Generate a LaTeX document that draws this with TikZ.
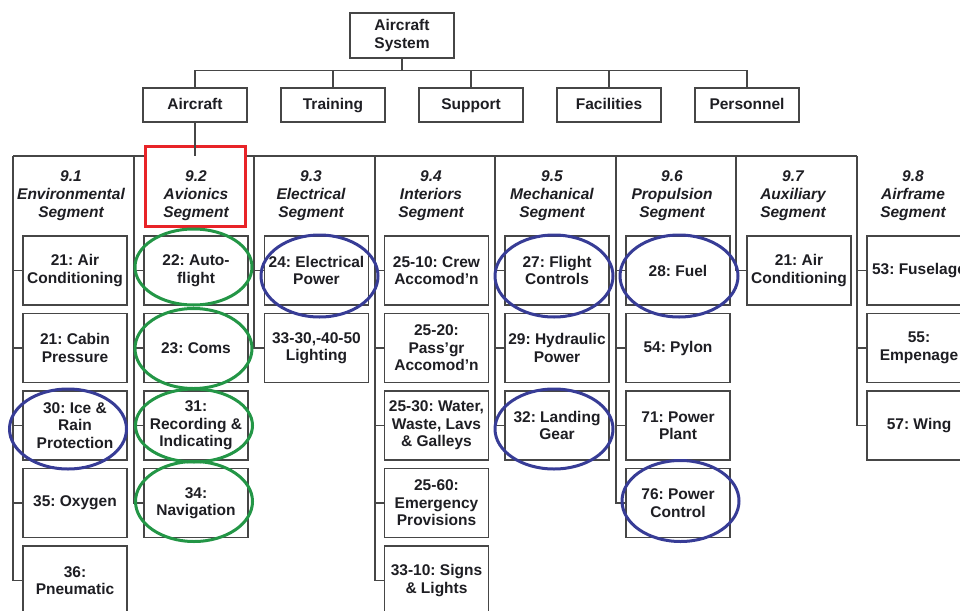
\documentclass[tikz,border=0pt]{standalone}
\usepackage{fontspec}
\setmainfont{Liberation Sans}
\frenchspacing
\usetikzlibrary{positioning}
\definecolor{linie}{RGB}{70,70,70}
\definecolor{schrift}{RGB}{30,30,35}
\definecolor{rot}{RGB}{232,35,40}
\definecolor{gruen}{RGB}{35,150,70}
\definecolor{blau}{RGB}{55,60,150}
\tikzset{kasten/.style={draw=linie,line width=1.3pt,fill=white,minimum width=104pt,minimum height=69pt,align=center,inner sep=1pt},
	oben/.style={kasten,minimum height=34pt,text height=13pt,text depth=3.5pt},
	kopf/.style={align=center,inner sep=0pt,font=\fontsize{15.5}{18}\selectfont\bfseries\itshape},
	ast/.style={draw=linie,line width=1.2pt},
	gruenring/.style={draw=gruen,line width=3pt},
	blauring/.style={draw=blau,line width=3pt},
	rotrahmen/.style={draw=rot,line width=3.2pt,fill=white,minimum width=100pt,minimum height=80pt} }

\begin{document}
\begin{tikzpicture}
	[x=1pt, y=-1pt,
	 font=\fontsize{15.5}{17.5}\selectfont\bfseries,
	 text=schrift,
	 node distance=7.2pt]
  \useasboundingbox (0,0) rectangle (960,610);
  \clip (0,0) rectangle (960,610);

  % obere Ebenen
  \node (sys) [kasten,minimum height=45pt] at (402,35.5) {Aircraft\\System};
  \node (a1) [oben] at (195,105) {Aircraft};
  \node (a2) [oben] at (333,105) {Training};
  \node (a3) [oben] at (471,105) {Support};
  \node (a4) [oben] at (609,105) {Facilities};
  \node (a5) [oben] at (747,105) {Personnel};
  \coordinate (bus) at (402,70.5);
  \foreach \n in {1,...,5}
    \draw[ast] (sys.south) -- (sys.south |- bus) -| (a\n.north);

  % Segmente
  \coordinate (s1) at (13,156);
  \coordinate (s2) at (134,156);
  \coordinate (s3) at (254,156);
  \coordinate (s4) at (375,156);
  \coordinate (s5) at (495,156);
  \coordinate (s6) at (616,156);
  \coordinate (s7) at (736,156);
  \coordinate (s8) at (857,156);
  \draw[ast] (s1) -- (s8);

  \node (rahmen) [rotrahmen] at (195.5,186.5) {};
  \draw[ast] (a1.south) -- (a1.south |- s1);

  \node (k1) [kopf] at (71,196) {9.1\\Environmental\\Segment};
  \node (k2) [kopf] at (196,196) {9.2\\Avionics\\Segment};
  \node (k3) [kopf] at (311,196) {9.3\\Electrical\\Segment};
  \node (k4) [kopf] at (431,196) {9.4\\Interiors\\Segment};
  \node (k5) [kopf] at (552,196) {9.5\\Mechanical\\Segment};
  \node (k6) [kopf] at (672,196) {9.6\\Propulsion\\Segment};
  \node (k7) [kopf] at (793,196) {9.7\\Auxiliary\\Segment};
  \node (k8) [kopf] at (913,196) {9.8\\Airframe\\Segment};

  % 9.1
  \node (e1) [kasten] at (75,270.5) {21: Air\\Conditioning};
  \node (e2) [kasten,below=of e1] {21: Cabin\\Pressure};
  \node (e3) [kasten,below=of e2] {30: Ice \&\\Rain\\Protection};
  \node (e4) [kasten,below=of e3] {35: Oxygen};
  \node (e5) [kasten,below=of e4] {36:\\Pneumatic};
  \foreach \n in {e1,e2,e3,e4,e5}
    \draw[ast] (s1) |- (\n.west);

  % 9.2
  \node (v1) [kasten] at (196,270.5) {22: Auto-\\flight};
  \node (v2) [kasten,below=of v1] {23: Coms};
  \node (v3) [kasten,below=of v2] {31:\\Recording \&\\Indicating};
  \node (v4) [kasten,below=of v3] {34:\\Navigation};
  \foreach \n in {v1,v2,v3,v4}
    \draw[ast] (s2) |- (\n.west);

  % 9.3
  \node (l1) [kasten] at (316.5,270.5) {24: Electrical\\Power};
  \node (l2) [kasten,below=of l1] {33-30,-40-50\\Lighting};
  \foreach \n in {l1,l2}
    \draw[ast] (s3) |- (\n.west);

  % 9.4
  \node (i1) [kasten] at (436.5,270.5) {25-10: Crew\\Accomod’n};
  \node (i2) [kasten,below=of i1] {25-20:\\Pass’gr\\Accomod’n};
  \node (i3) [kasten,below=of i2] {25-30: Water,\\Waste, Lavs\\\& Galleys};
  \node (i4) [kasten,below=of i3] {25-60:\\Emergency\\Provisions};
  \node (i5) [kasten,below=of i4] {33-10: Signs\\\& Lights};
  \foreach \n in {i1,i2,i3,i4,i5}
    \draw[ast] (s4) |- (\n.west);

  % 9.5
  \node (m1) [kasten] at (557,270.5) {27: Flight\\Controls};
  \node (m2) [kasten,below=of m1] {29: Hydraulic\\Power};
  \node (m3) [kasten,below=of m2] {32: Landing\\Gear};
  \foreach \n in {m1,m2,m3}
    \draw[ast] (s5) |- (\n.west);

  % 9.6
  \node (p1) [kasten] at (678,270.5) {28: Fuel};
  \node (p2) [kasten,below=of p1] {54: Pylon};
  \node (p3) [kasten,below=of p2] {71: Power\\Plant};
  \node (p4) [kasten,below=of p3] {76: Power\\Control};
  \foreach \n in {p1,p2,p3,p4}
    \draw[ast] (s6) |- (\n.west);

  % 9.7
  \node (h1) [kasten] at (799,270.5) {21: Air\\Conditioning};
  \draw[ast] (s7) |- (h1.west);

  % 9.8
  \node (r1) [kasten] at (919,270.5) {53: Fuselage};
  \node (r2) [kasten,below=of r1] {55:\\Empenage};
  \node (r3) [kasten,below=of r2] {57: Wing};
  \foreach \n in {r1,r2,r3}
    \draw[ast] (s8) |- (\n.west);

  % Markierungen
  \draw[gruenring] ([shift={(-2.5,-3.5)}]v1.center) ellipse [x radius=58.5pt, y radius=38pt];
  \draw[gruenring] ([shift={(-2.5,0.5)}]v2.center) ellipse [x radius=58.5pt, y radius=40pt];
  \draw[gruenring] ([shift={(-2,0)}]v3.center) ellipse [x radius=58.5pt, y radius=36.5pt];
  \draw[gruenring] ([shift={(-2,-1.5)}]v4.center) ellipse [x radius=58.5pt, y radius=40pt];
  \draw[blauring] ([shift={(-7,3.5)}]e3.center) ellipse [x radius=58.5pt, y radius=40pt];
  \draw[blauring] ([shift={(3,5.5)}]l1.center) ellipse [x radius=58.5pt, y radius=41pt];
  \draw[blauring] ([shift={(-3,5.5)}]m1.center) ellipse [x radius=59pt, y radius=41pt];
  \draw[blauring] ([shift={(-3,3.5)}]m3.center) ellipse [x radius=59pt, y radius=40pt];
  \draw[blauring] ([shift={(1,5.5)}]p1.center) ellipse [x radius=59pt, y radius=41pt];
  \draw[blauring] ([shift={(2.5,-2)}]p4.center) ellipse [x radius=58.5pt, y radius=40.5pt];
\end{tikzpicture}
\end{document}
